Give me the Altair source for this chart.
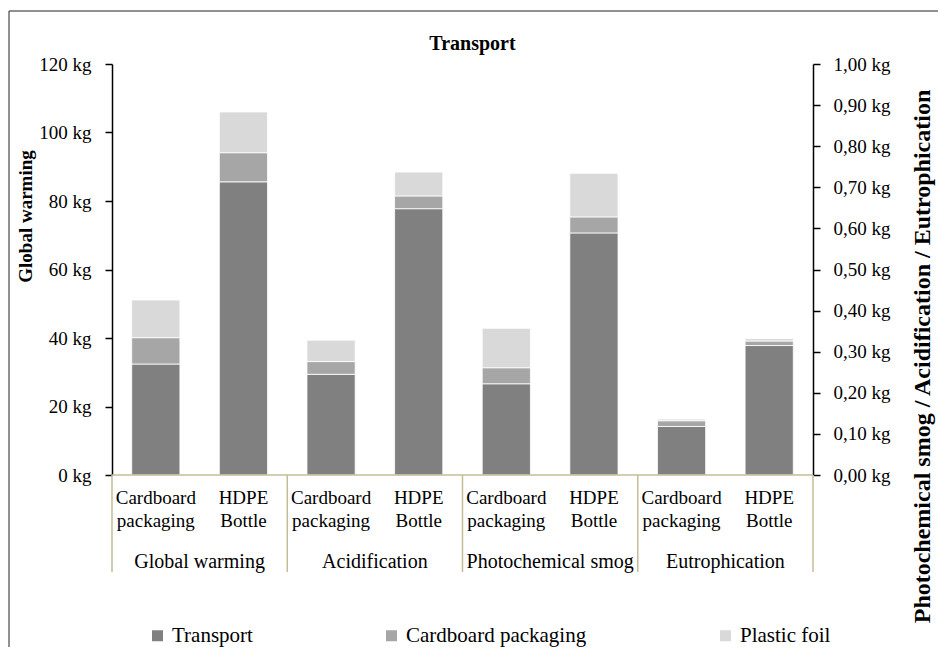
import altair as alt
import pandas as pd

# ---- data ----
impacts = ["Global warming", "Acidification", "Photochemical smog", "Eutrophication"]
products = ["Cardboard packaging", "HDPE Bottle"]
components = ["Transport", "Cardboard packaging", "Plastic foil"]
colors = ["#808080", "#A6A6A6", "#D9D9D9"]

# Global warming in kg (left axis); other impacts in kg on the right axis
transport = [32.4, 85.6, 0.245, 0.648, 0.222, 0.589, 0.118, 0.315]
cardboard = [7.7, 8.5, 0.031, 0.031, 0.039, 0.039, 0.014, 0.011]
plastic_foil = [11.0, 11.9, 0.052, 0.058, 0.096, 0.106, 0.004, 0.006]

left_ticks = [0, 20, 40, 60, 80, 100, 120]
right_ticks = [0.0, 0.1, 0.2, 0.3, 0.4, 0.5, 0.6, 0.7, 0.8, 0.9, 1.0]
chart_title = "Transport"

FONT = "Liberation Serif"
TAN = "#C4BD97"

series = [transport, cardboard, plastic_foil]
rows = []
n_slots = len(impacts) * len(products)
for i in range(n_slots):
    g, p = divmod(i, len(products))
    for k, comp in enumerate(components):
        rows.append(dict(slot=i, impact=impacts[g], product=products[p],
                         component=comp, ord=k, value=series[k][i],
                         side="left" if g == 0 else "right"))
df = pd.DataFrame(rows)

labels_df = pd.DataFrame([
    dict(slot=i, line1=products[i % 2].split(" ")[0], line2=products[i % 2].split(" ")[1])
    for i in range(n_slots)
])
groups_df = pd.DataFrame([dict(gi=g, impact=impacts[g]) for g in range(len(impacts))])
bounds_df = pd.DataFrame([dict(b=g * len(products)) for g in range(len(impacts) + 1)])
base_df = pd.DataFrame([dict(b0=0, b1=n_slots)])
box_df = pd.DataFrame([dict(k=1)])
title_df = pd.DataFrame([dict(t=chart_title, xc=n_slots / 2)])

xscale = alt.Scale(domain=[0, n_slots], nice=False, zero=False)
cscale = alt.Scale(domain=components, range=colors)

legend = alt.Legend(title=None, orient="none", legendX=35, legendY=561,
                    direction="horizontal", columns=3, columnPadding=128,
                    symbolType="square", symbolSize=121, symbolStrokeWidth=0,
                    labelFont=FONT, labelFontSize=21, labelColor="black",
                    labelOffset=4, labelLimit=0)

axis_common = dict(grid=False, domainColor="black", domainWidth=1.5,
                   tickColor="black", tickWidth=1.5, tickSize=7,
                   labelFont=FONT, labelFontSize=19, labelColor="black",
                   labelFlush=False, labelOverlap=False,
                   titleFont=FONT, titleFontWeight="bold", titleColor="black",
                   titleAngle=270, titleAlign="center", titleBaseline="middle")

left_axis = alt.Axis(values=left_ticks, orient="left",
                     labelExpr="datum.value + ' kg'", labelPadding=14,
                     title="Global warming", titleFontSize=19,
                     titleX=-87, titleY=152, **axis_common)
right_axis = alt.Axis(values=right_ticks, orient="right",
                      labelExpr="replace(format(datum.value, '.2f'), '.', ',') + ' kg'",
                      labelPadding=13,
                      title="Photochemical smog / Acidification / Eutrophication",
                      titleFontSize=24, titleX=109, titleY=292, **axis_common)


def bar_layer(side, domain, axis):
    return alt.Chart(df).transform_filter(
        f"datum.side == '{side}'"
    ).transform_stack(
        stack="value", groupby=["slot"], as_=["v0", "v1"],
        sort=[alt.SortField("ord", order="ascending")]
    ).transform_calculate(
        x0="datum.slot + 0.225", x1="datum.slot + 0.775"
    ).mark_bar(stroke="white", strokeWidth=0.8).encode(
        x=alt.X("x0:Q", scale=xscale, axis=None), x2="x1:Q",
        y=alt.Y("v0:Q", scale=alt.Scale(domain=domain, nice=False), axis=axis),
        y2="v1:Q",
        color=alt.Color("component:N", scale=cscale, legend=legend),
    )


bars_left = bar_layer("left", [0, 120], left_axis)
bars_right = bar_layer("right", [0, 1], right_axis)

border = alt.Chart(box_df).mark_rect(fill=None, stroke="#222222", strokeWidth=1).encode(
    x=alt.value(-103), x2=alt.value(832), y=alt.value(-53), y2=alt.value(800)
)

baseline = alt.Chart(base_df).mark_rule(color=TAN, strokeWidth=1.5).encode(
    x=alt.X("b0:Q", scale=xscale, axis=None), x2="b1:Q", y=alt.value(411)
)
separators = alt.Chart(bounds_df).mark_rule(color=TAN, strokeWidth=1.5).encode(
    x=alt.X("b:Q", scale=xscale, axis=None), y=alt.value(411), y2=alt.value(508)
)

lab = alt.Chart(labels_df).transform_calculate(xc="datum.slot + 0.5")
line1 = lab.mark_text(font=FONT, fontSize=19, color="black", baseline="middle").encode(
    x=alt.X("xc:Q", scale=xscale, axis=None), y=alt.value(434), text="line1:N")
line2 = lab.mark_text(font=FONT, fontSize=19, color="black", baseline="middle").encode(
    x=alt.X("xc:Q", scale=xscale, axis=None), y=alt.value(457), text="line2:N")

grp = alt.Chart(groups_df).transform_calculate(xc="datum.gi * 2 + 1").mark_text(
    font=FONT, fontSize=20, color="black", baseline="middle").encode(
    x=alt.X("xc:Q", scale=xscale, axis=None), y=alt.value(498), text="impact:N")

title = alt.Chart(title_df).mark_text(
    font=FONT, fontSize=20, fontWeight="bold", color="black", baseline="middle", dx=10
).encode(x=alt.X("xc:Q", scale=xscale, axis=None), y=alt.value(-20), text="t:N")

chart = alt.layer(
    border, bars_left, bars_right, baseline, separators, line1, line2, grp, title
).resolve_scale(y="independent").properties(
    width=701, height=411,
    autosize=alt.AutoSizeParams(type="none"),
    padding={"left": 104, "top": 56, "right": 125, "bottom": 172},
).configure_view(stroke=None)

chart.save("out.html", embed_options={"renderer": "svg", "actions": False})
